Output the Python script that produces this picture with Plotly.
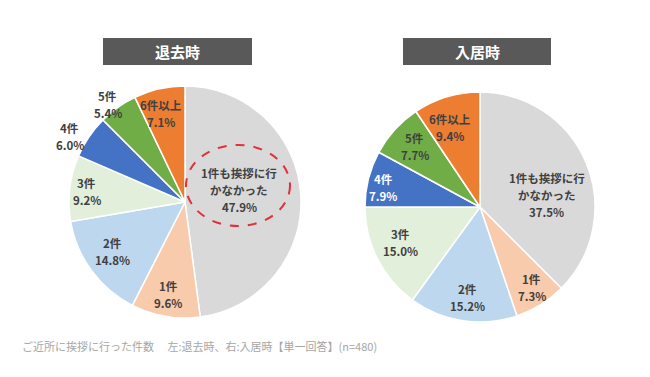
import math
import plotly.graph_objects as go

# ---- data ----
categories = ["1件も挨拶に行かなかった", "1件", "2件", "3件", "4件", "5件", "6件以上"]
label_lines = [["1件も挨拶に行", "かなかった"], ["1件"], ["2件"], ["3件"], ["4件"], ["5件"], ["6件以上"]]
left_values = [47.9, 9.6, 14.8, 9.2, 6.0, 5.4, 7.1]
right_values = [37.5, 7.3, 15.2, 15.0, 7.9, 7.7, 9.4]
left_title = "退去時"
right_title = "入居時"
caption = "ご近所に挨拶に行った件数　 左:退去時、右:入居時【単一回答】(n=480)"

colors = ["#d9d9d9", "#f8cbad", "#bdd7ee", "#e2efda", "#4472c4", "#70ad47", "#ed7d31"]

W, H = 650, 377
OFF = 8  # page body margin compensation

# pie geometry (pixels): center x, center y, radius
left_geo = (185, 202, 116)
right_geo = (480, 207, 115)

# label placement style: (radial fraction, angle shift deg)
left_lab = [(0.48, -8.7), (0.81, 0.7), (0.76, 2.0), (0.85, -1.0), (1.14, -4.7), (1.07, -3.1), (0.79, -2.3)]
right_lab = [(0.59, 12.3), (0.83, -1.1), (0.79, -1.0), (0.76, 2.8), (0.86, -2.6), (0.77, 0.4), (0.74, -3.7)]
right_text_colors = ["#404040"] * 4 + ["#ffffff"] + ["#404040"] * 2
left_text_colors = ["#404040"] * 7
LINE_GAP = 17
LABEL_SIZE = 11.5

FONT = "Noto Sans CJK JP"


def px2x(px):
    return (px - OFF) / W


def px2y(py):
    return 1 - (py - OFF) / H


fig = go.Figure()


def domain(geo):
    cx, cy, r = geo
    return dict(x=[px2x(cx - r), px2x(cx + r)], y=[px2y(cy + r), px2y(cy - r)])


for vals, geo, name in [(left_values, left_geo, left_title), (right_values, right_geo, right_title)]:
    fig.add_trace(go.Pie(
        labels=categories, values=vals, sort=False, direction="clockwise", rotation=0,
        marker=dict(colors=colors, line=dict(color="white", width=1.5)),
        textinfo="none", hoverinfo="label+percent", domain=domain(geo), name=name,
        showlegend=False,
    ))

annotations = []


def add_labels(vals, geo, lab, tcolors):
    cx, cy, r = geo
    total = sum(vals)
    cum = 0.0
    for i, v in enumerate(vals):
        mid = (cum + v / 2) / total * 360.0
        cum += v
        f, dth = lab[i]
        th = math.radians(mid + dth)
        px = cx + r * f * math.sin(th)
        py = cy - r * f * math.cos(th)
        lines = label_lines[i] + [f"{v:.1f}%"]
        n = len(lines)
        for k, ln in enumerate(lines):
            ly = py + (k - (n - 1) / 2) * LINE_GAP
            annotations.append(dict(
                x=px2x(px), y=px2y(ly), xref="paper", yref="paper",
                text=f"<b>{ln}</b>", showarrow=False,
                font=dict(family=FONT, size=LABEL_SIZE, color=tcolors[i]),
                xanchor="center", yanchor="middle", align="center",
            ))


add_labels(left_values, left_geo, left_lab, left_text_colors)
add_labels(right_values, right_geo, right_lab, right_text_colors)

shapes = []
# title boxes
for (x0, x1), t in [((103, 252), left_title), ((403, 551), right_title)]:
    shapes.append(dict(type="rect", xref="paper", yref="paper",
                       x0=px2x(x0), x1=px2x(x1), y0=px2y(65), y1=px2y(38),
                       fillcolor="#595959", line=dict(width=0)))
    annotations.append(dict(x=px2x((x0 + x1) / 2), y=px2y(51.5), xref="paper", yref="paper",
                            text=f"<b>{t}</b>", showarrow=False,
                            font=dict(family=FONT, size=15, color="white"),
                            xanchor="center", yanchor="middle"))

# dashed highlight ellipse
shapes.append(dict(type="circle", xref="paper", yref="paper",
                   x0=px2x(186), x1=px2x(290), y0=px2y(226), y1=px2y(145),
                   line=dict(color="#e0303a", width=2, dash="dash")))

annotations.append(dict(x=px2x(20), y=px2y(346), xref="paper", yref="paper",
                        text=caption, showarrow=False,
                        font=dict(family=FONT, size=11, color="#a6a6a6"),
                        xanchor="left", yanchor="middle"))

fig.update_layout(
    width=W, height=H, autosize=False,
    margin=dict(l=0, r=0, t=0, b=0),
    paper_bgcolor="white", plot_bgcolor="white",
    annotations=annotations, shapes=shapes,
    font=dict(family=FONT),
)

fig.write_html("out.html")
